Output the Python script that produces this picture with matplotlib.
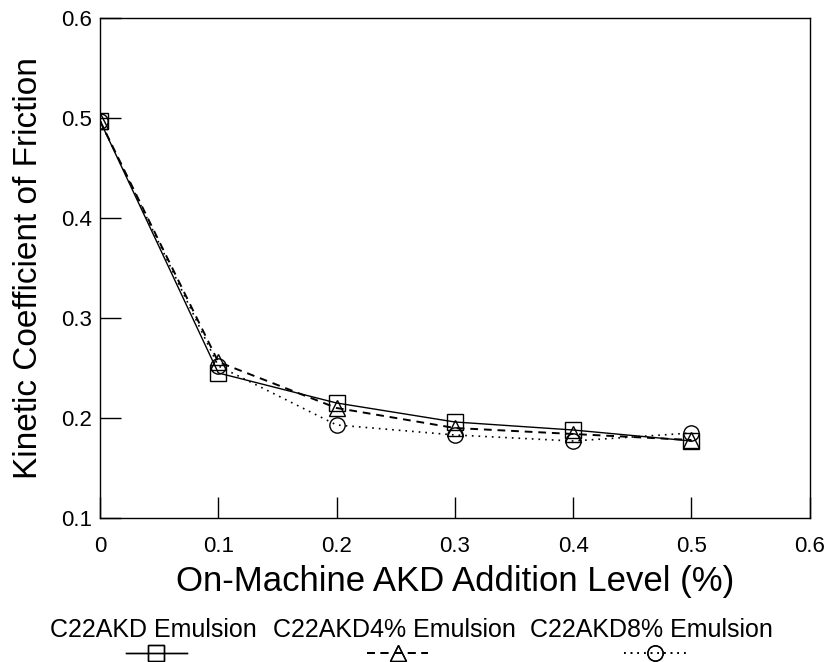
import matplotlib
matplotlib.use("Agg")
import matplotlib.pyplot as plt

plt.rcParams['font.family'] = ['Liberation Sans', 'DejaVu Sans']

# niveaux d'ajout AKD (%)
niveaux = [0, 0.1, 0.2, 0.3, 0.4, 0.5]
c22akd = [0.497, 0.245, 0.215, 0.196, 0.188, 0.177]
c22akd4 = [0.497, 0.256, 0.210, 0.190, 0.184, 0.178]
c22akd8 = [0.497, 0.252, 0.193, 0.183, 0.177, 0.185]
noms = ["C22AKD Emulsion", "C22AKD4% Emulsion", "C22AKD8% Emulsion"]

fig = plt.figure(figsize=(8.27, 6.62), dpi=100)
ax = fig.add_axes([0.121, 0.2175, 0.858, 0.7555])

l1, = ax.plot(niveaux, c22akd, color='black', lw=1.0, ls='-', marker='s',
              ms=11, mfc='none', mec='black', mew=1.0)
l2, = ax.plot(niveaux, c22akd4, color='black', lw=1.4, ls=(0, (4, 3)), marker='^',
              ms=12, mfc='none', mec='black', mew=1.0)
l3, = ax.plot(niveaux, c22akd8, color='black', lw=1.2, ls=(0, (1, 3)), marker='o',
              ms=11, mfc='none', mec='black', mew=1.0)

ax.set_xlim(0, 0.6)
ax.set_ylim(0.1, 0.6)
ax.set_xticks([0, 0.1, 0.2, 0.3, 0.4, 0.5, 0.6])
ax.set_xticklabels(["0", "0.1", "0.2", "0.3", "0.4", "0.5", "0.6"])
ax.set_yticks([0.1, 0.2, 0.3, 0.4, 0.5, 0.6])
ax.set_yticklabels(["0.1", "0.2", "0.3", "0.4", "0.5", "0.6"])
ax.tick_params(direction='in', length=15, width=1, labelsize=16)
ax.tick_params(axis='x', pad=13)
ax.tick_params(axis='y', pad=6)
for s in ax.spines.values():
    s.set_linewidth(1.0)

ax.set_xlabel("On-Machine AKD Addition Level (%)", fontsize=25, labelpad=6)
ax.set_ylabel("Kinetic Coefficient of Friction", fontsize=24, labelpad=12)

# légende : texte au-dessus, symbole en dessous (centré)
xs = [0.185, 0.477, 0.788]
for x, nom in zip(xs, noms):
    fig.text(x, 0.049, nom, fontsize=18, ha='center', va='center')
for x, ligne in zip(xs, [l1, l2, l3]):
    leg = fig.legend([ligne], [""], loc='center', bbox_to_anchor=(x + 0.004, 0.012),
                     frameon=False, handlelength=4.4, handletextpad=0, borderpad=0)
    fig.add_artist(leg)

fig.savefig("out.png", dpi=100)
